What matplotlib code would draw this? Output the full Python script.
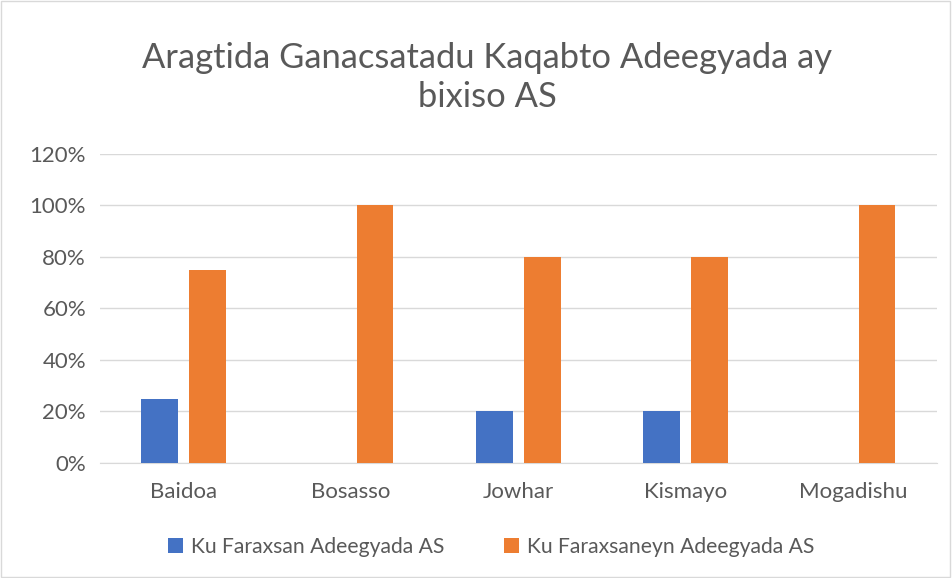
import numpy as np
import matplotlib
matplotlib.use('Agg')
from matplotlib import pyplot as plt
from matplotlib.patches import Rectangle

# data
cities = ['Baidoa', 'Bosasso', 'Jowhar', 'Kismayo', 'Mogadishu']
faraxsan = [0.25, 0.0, 0.20, 0.20, 0.0]
faraxsaneyn = [0.75, 1.00, 0.80, 0.80, 1.00]
yticks = [0, 0.2, 0.4, 0.6, 0.8, 1.0, 1.2]
ytick_labels = ['0%', '20%', '40%', '60%', '80%', '100%', '120%']

plt.rcParams['font.family'] = ['Lato', 'DejaVu Sans']
gray = '#595959'

fig = plt.figure(figsize=(9.52, 5.78), dpi=100)
fig.patches.append(Rectangle((0.001, 0.001), 0.997, 0.997, transform=fig.transFigure,
                             fill=False, edgecolor='#d9d9d9', linewidth=1))
ax = fig.add_axes([0.105, 0.199, 0.879, 0.535])

x = np.arange(len(cities))
w = 0.22
ax.bar(x - 0.143, faraxsan, w, color='#4472c4', label='Ku Faraxsan Adeegyada AS', zorder=3)
ax.bar(x + 0.143, faraxsaneyn, w, color='#ed7d31', label='Ku Faraxsaneyn Adeegyada AS', zorder=3)

ax.set_xlim(-0.5, len(cities) - 0.5)
ax.set_ylim(0, 1.2)
ax.set_yticks(yticks)
ax.set_yticklabels(ytick_labels)
ax.set_xticks(x)
ax.set_xticklabels(cities)
ax.tick_params(axis='both', length=0, labelsize=16, colors=gray)
ax.tick_params(axis='y', pad=10)
ax.tick_params(axis='x', pad=14)
ax.grid(axis='y', color='#d9d9d9', linewidth=1, zorder=0)
for s in ['top', 'right', 'left']:
    ax.spines[s].set_visible(False)
ax.spines['bottom'].set_color('#d9d9d9')

fig.text(0.512, 0.866, 'Aragtida Ganacsatadu Kaqabto Adeegyada ay\nbixiso AS', ha='center',
         va='center', fontsize=24.8, color=gray, linespacing=1.3)

fig.legend(loc='center', bbox_to_anchor=(0.516, 0.054), ncol=2, frameon=False,
           fontsize=15.2, labelcolor=gray, handlelength=0.7, handleheight=0.7,
           columnspacing=2.8, handletextpad=0.4)

fig.savefig('out.png', dpi=100)
